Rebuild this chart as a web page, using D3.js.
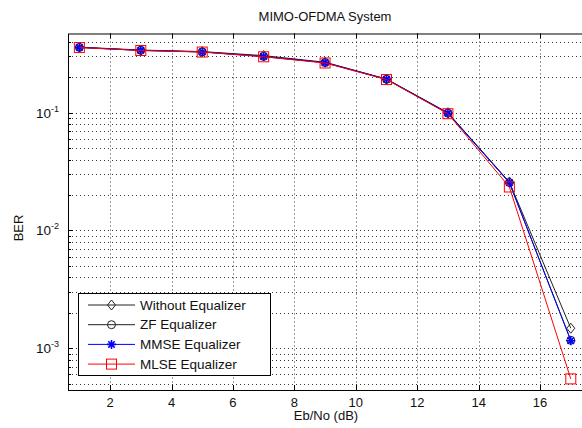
<!DOCTYPE html>
<html>
<head>
<meta charset="utf-8">
<script src="https://cdn.jsdelivr.net/npm/d3@7"></script>
<style>
  body { margin: 0; background: #fff; }
  svg { display: block; font-family: "Liberation Sans", Arial, Helvetica, sans-serif; }
</style>
</head>
<body>
<svg id="chart" width="582" height="428"></svg>
<script>
// data
const snr = [1, 3, 5, 7, 9, 11, 13, 15, 17];
const withoutEq = [0.360, 0.340, 0.330, 0.305, 0.268, 0.193, 0.100, 0.0258, 0.00148];
const zfEq = [0.358, 0.338, 0.328, 0.300, 0.266, 0.192, 0.099, 0.0255, 0.00117];
const mmseEq = [0.358, 0.338, 0.328, 0.300, 0.266, 0.192, 0.099, 0.0255, 0.00116];
const mlseEq = [0.357, 0.337, 0.327, 0.298, 0.264, 0.191, 0.098, 0.0234, 0.00055];
const seriesNames = ["Without Equalizer", "ZF Equalizer", "MMSE Equalizer", "MLSE Equalizer"];
const xTicks = [2, 4, 6, 8, 10, 12, 14, 16];
const yTicks = [1e-1, 1e-2, 1e-3];
const yTickExp = ["-1", "-2", "-3"];

const svg = d3.select("#chart");
const axL = 68, axR = 583, axT = 33.5, axB = 390;

const x = d3.scaleLinear().domain([0.63, 17.37]).range([axL, axL + (17.37 - 0.63) * 30.714]);
const y = d3.scaleLog().domain([Math.pow(10, -3.354), Math.pow(10, -0.328)]).range([axB, axT]);

svg.append("rect").attr("width", 582).attr("height", 428).attr("fill", "#fff");

const g = svg.append("g");

// grid
const grid = g.append("g").attr("stroke", "#333").attr("stroke-width", 1).attr("stroke-dasharray", "1,3");
xTicks.forEach(t => {
  grid.append("line").attr("x1", Math.round(x(t)) + 0.5).attr("x2", Math.round(x(t)) + 0.5)
    .attr("y1", axT).attr("y2", axB);
});
const minor = [];
for (let e = -4; e <= -1; e++) {
  for (let m = 1; m <= 9; m++) {
    const v = m * Math.pow(10, e);
    if (v > y.domain()[0] && v < y.domain()[1]) minor.push(v);
  }
}
minor.forEach(v => {
  grid.append("line").attr("x1", axL).attr("x2", axR)
    .attr("y1", Math.round(y(v)) + 0.5).attr("y2", Math.round(y(v)) + 0.5);
});

// ticks (inward)
const ticks = g.append("g").attr("stroke", "#000").attr("stroke-width", 1);
xTicks.forEach(t => {
  const px = Math.round(x(t)) + 0.5;
  ticks.append("line").attr("x1", px).attr("x2", px).attr("y1", axB).attr("y2", axB - 5);
  ticks.append("line").attr("x1", px).attr("x2", px).attr("y1", axT).attr("y2", axT + 5);
});
minor.forEach(v => {
  const py = Math.round(y(v)) + 0.5;
  const len = yTicks.includes(v) ? 5 : 3;
  ticks.append("line").attr("x1", axL).attr("x2", axL + len).attr("y1", py).attr("y2", py);
});

// axes box
g.append("rect").attr("x", axL + 0.5).attr("y", axT + 0.5).attr("width", axR - axL).attr("height", axB - axT)
  .attr("fill", "none").attr("stroke", "#000").attr("stroke-width", 1);

// tick labels
xTicks.forEach(t => {
  svg.append("text").attr("x", x(t)).attr("y", 407).attr("text-anchor", "middle")
    .attr("font-size", 13).attr("fill", "#111").text(t);
});
yTicks.forEach((v, i) => {
  const tx = svg.append("text").attr("x", 36).attr("y", y(v) + 5).attr("font-size", 13.5).attr("fill", "#111");
  tx.append("tspan").text("10");
  tx.append("tspan").attr("dy", -6).attr("font-size", 9).text(yTickExp[i]);
});

// titles
svg.append("text").attr("x", 325).attr("y", 21).attr("text-anchor", "middle").attr("font-size", 13)
  .attr("fill", "#111").text("MIMO-OFDMA System");
svg.append("text").attr("x", 326).attr("y", 420).attr("text-anchor", "middle").attr("font-size", 13)
  .attr("fill", "#111").text("Eb/No (dB)");
svg.append("text").attr("transform", "translate(23,228) rotate(-90)").attr("text-anchor", "middle")
  .attr("font-size", 13).attr("fill", "#111").text("BER");

// markers
function drawMarker(sel, kind, cx, cy, color) {
  if (kind === "diamond") {
    sel.append("path").attr("d", `M${cx},${cy - 5}L${cx + 4},${cy}L${cx},${cy + 5}L${cx - 4},${cy}Z`)
      .attr("fill", "none").attr("stroke", color).attr("stroke-width", 1);
  } else if (kind === "circle") {
    sel.append("circle").attr("cx", cx).attr("cy", cy).attr("r", 4)
      .attr("fill", "none").attr("stroke", color).attr("stroke-width", 1);
  } else if (kind === "star") {
    const r = 4.5, d = 3.2;
    sel.append("path")
      .attr("d", `M${cx - r},${cy}H${cx + r}M${cx},${cy - r}V${cy + r}M${cx - d},${cy - d}L${cx + d},${cy + d}M${cx - d},${cy + d}L${cx + d},${cy - d}`)
      .attr("stroke", color).attr("stroke-width", 1.6);
  } else if (kind === "square") {
    sel.append("rect").attr("x", cx - 5).attr("y", cy - 5).attr("width", 10).attr("height", 10)
      .attr("fill", "none").attr("stroke", color).attr("stroke-width", 1);
  }
}

const series = [
  { values: withoutEq, color: "#222", marker: "diamond" },
  { values: zfEq, color: "#222", marker: "circle" },
  { values: mmseEq, color: "#0000ff", marker: "star" },
  { values: mlseEq, color: "#ff0000", marker: "square" }
];

const line = d3.line().x((d, i) => x(snr[i])).y(d => y(d));
const plot = svg.append("g");
series.forEach(s => {
  plot.append("path").datum(s.values).attr("d", line).attr("fill", "none")
    .attr("stroke", s.color).attr("stroke-width", 1);
  s.values.forEach((v, i) => drawMarker(plot, s.marker, x(snr[i]), y(v), s.color));
});

// legend
const lg = svg.append("g");
lg.append("rect").attr("x", 78.5).attr("y", 293.5).attr("width", 192).attr("height", 82)
  .attr("fill", "#fff").attr("stroke", "#000").attr("stroke-width", 1);
series.forEach((s, i) => {
  const ly = 305 + i * 19.7;
  lg.append("line").attr("x1", 88).attr("x2", 135).attr("y1", ly).attr("y2", ly)
    .attr("stroke", s.color).attr("stroke-width", 1);
  drawMarker(lg, s.marker, 111.5, ly, s.color);
  lg.append("text").attr("x", 140).attr("y", ly + 4.5).attr("font-size", 13.5).attr("fill", "#111")
    .text(seriesNames[i]);
});
</script>
</body>
</html>
